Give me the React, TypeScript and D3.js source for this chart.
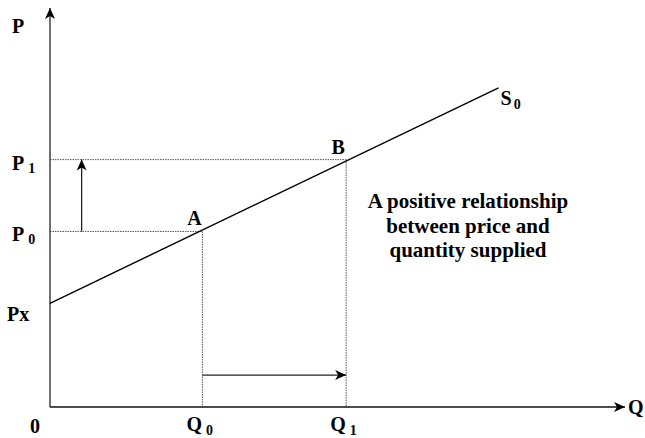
import React from "react";
import * as d3 from "d3";

// Supply curve S0 and the two equilibrium points
const supplyPoints: [number, number][] = [
  [0, 26],
  [78, 80],
];
const quantities = [26.5, 51.5]; // Q0, Q1
const prices = [44, 62]; // P0, P1
const priceIntercept = 26; // Px
const pointLabels = ["A", "B"];
const noteLines = ["A positive relationship", "between price and", "quantity supplied"];

const W = 645;
const H = 438;
const FONT = "Liberation Serif, Times New Roman, serif";

export default function App() {
  const x = d3.scaleLinear().domain([0, 100]).range([50, 625]);
  const y = d3.scaleLinear().domain([0, 100]).range([407, 8]);
  const line = d3
    .line<[number, number]>()
    .x((d) => x(d[0]))
    .y((d) => y(d[1]));

  const dotted = { stroke: "#555", strokeWidth: 1, strokeDasharray: "1.5 1" };
  const lbl = { fontFamily: FONT, fontWeight: 700, fill: "#000" } as const;

  return (
    <svg
      width={W}
      height={H}
      style={{ position: "absolute", left: 0, top: 0, background: "#fff" }}
    >
      <defs>
        <marker
          id="head"
          viewBox="-1 -6 13 12"
          markerWidth={13}
          markerHeight={12}
          refX={11}
          refY={0}
          orient="auto"
          markerUnits="userSpaceOnUse"
        >
          <path d="M0,-5 L11,0 L0,5 L3,0 Z" fill="#000" />
        </marker>
      </defs>

      {/* guide lines from the axes to A and B */}
      {quantities.map((q, i) => (
        <g key={i}>
          <line x1={x(0)} x2={x(q)} y1={y(prices[i])} y2={y(prices[i])} {...dotted} />
          <line x1={x(q)} x2={x(q)} y1={y(prices[i])} y2={y(0)} {...dotted} />
        </g>
      ))}

      {/* axes */}
      <line x1={x(0)} x2={x(0)} y1={y(0)} y2={y(100)} stroke="#333" strokeWidth={1.4} markerEnd="url(#head)" />
      <line x1={x(0)} x2={x(100)} y1={y(0)} y2={y(0)} stroke="#111" strokeWidth={1.4} markerEnd="url(#head)" />

      {/* supply curve */}
      <path d={line(supplyPoints) ?? ""} fill="none" stroke="#000" strokeWidth={1.4} />

      {/* price rise and quantity rise arrows */}
      <line x1={x(5.5)} x2={x(5.5)} y1={y(prices[0])} y2={y(prices[1])} stroke="#222" strokeWidth={1.3} markerEnd="url(#head)" />
      <line x1={x(quantities[0])} x2={x(quantities[1])} y1={y(8)} y2={y(8)} stroke="#222" strokeWidth={1.3} markerEnd="url(#head)" />

      {/* axis labels */}
      <text x={12} y={33} fontSize={20} {...lbl}>P</text>
      <text x={x(100) + 3} y={y(0) + 7} fontSize={20} {...lbl}>Q</text>
      <text x={30} y={433} fontSize={20} {...lbl}>0</text>
      <text x={7} y={y(priceIntercept) + 18} fontSize={20} {...lbl}>Px</text>
      {prices.map((p, i) => (
        <text key={i} x={12} y={y(p) + 10} fontSize={20} {...lbl}>
          P<tspan fontSize={14} dx={4} dy={3}>{i}</tspan>
        </text>
      ))}
      {quantities.map((q, i) => (
        <text key={i} x={x(q) - 16} y={431} fontSize={20} {...lbl}>
          Q<tspan fontSize={14} dx={4} dy={4}>{i}</tspan>
        </text>
      ))}

      {/* point labels */}
      {quantities.map((q, i) => (
        <text key={i} x={x(q) - 8} y={y(prices[i]) - 6} fontSize={20} textAnchor="middle" {...lbl}>
          {pointLabels[i]}
        </text>
      ))}
      <text x={x(supplyPoints[1][0]) + 2} y={y(supplyPoints[1][1]) + 17} fontSize={20} {...lbl}>
        S<tspan fontSize={14} dx={2} dy={4}>0</tspan>
      </text>

      {/* note */}
      <text x={468} y={208} fontSize={21} textAnchor="middle" {...lbl}>
        {noteLines.map((t, i) => (
          <tspan key={i} x={468} dy={i === 0 ? 0 : 24.5}>{t}</tspan>
        ))}
      </text>
    </svg>
  );
}
